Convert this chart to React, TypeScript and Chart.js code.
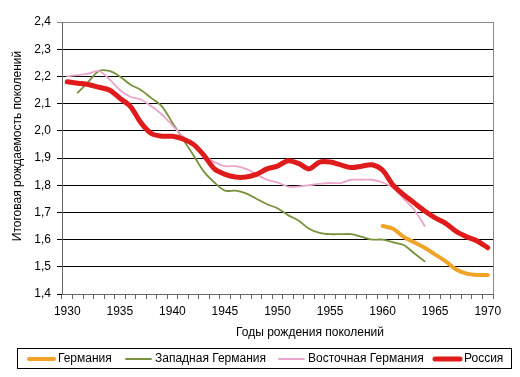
import React, { useEffect, useRef } from "react";
import { Chart, registerables } from "chart.js";

Chart.register(...registerables);

const YEARS: string[] = [];
for (let y = 1930; y <= 1970; y++) YEARS.push(String(y));

const Y_TICK_MIN = 1.4;
const Y_TICK_MAX = 2.4;
const Y_TICK_STEP = 0.1;

const X_TITLE = "Годы рождения поколений";
const Y_TITLE = "Итоговая рождаемость поколений";

const SERIES_NAMES = ["Германия", "Западная Германия", "Восточная Германия", "Россия"];

// Германия 1960-1970
const GERMANY_START = 1960;
const GERMANY = [1.65, 1.64, 1.61, 1.59, 1.57, 1.545, 1.52, 1.49, 1.475, 1.47, 1.47];

// Западная Германия 1931-1964
const WEST_START = 1931;
const WEST = [
  2.14, 2.18, 2.22, 2.22, 2.2, 2.17, 2.15, 2.12, 2.09, 2.03,
  1.97, 1.91, 1.85, 1.81, 1.78, 1.78, 1.77, 1.75, 1.73, 1.715,
  1.69, 1.67, 1.64, 1.625, 1.62, 1.62, 1.62, 1.61, 1.6, 1.6,
  1.59, 1.58, 1.55, 1.52,
];

// Восточная Германия 1930-1964
const EAST_START = 1930;
const EAST = [
  2.2, 2.205, 2.21, 2.22, 2.19, 2.15, 2.125, 2.115, 2.09, 2.06,
  2.02, 1.98, 1.95, 1.91, 1.885, 1.87, 1.87, 1.86, 1.84, 1.82,
  1.81, 1.795, 1.795, 1.8, 1.805, 1.808, 1.808, 1.82, 1.82, 1.82,
  1.81, 1.79, 1.75, 1.71, 1.65,
];

// Россия 1930-1970
const RUSSIA_START = 1930;
const RUSSIA = [
  2.18, 2.175, 2.17, 2.16, 2.15, 2.12, 2.09, 2.03, 1.99, 1.98,
  1.98, 1.97, 1.95, 1.91, 1.86, 1.84, 1.83, 1.83, 1.84, 1.86,
  1.87, 1.89, 1.88, 1.86, 1.885, 1.885, 1.875, 1.865, 1.87, 1.875,
  1.855, 1.8, 1.765, 1.735, 1.705, 1.68, 1.66, 1.63, 1.61, 1.595,
  1.57,
];

const COLORS = ["#f0a428", "#76923c", "#eba5cc", "#e01b1b"];
const WIDTHS = [4, 1.8, 1.8, 5];

function align(start: number, vals: number[]): (number | null)[] {
  return YEARS.map((y) => {
    const i = Number(y) - start;
    return i >= 0 && i < vals.length ? vals[i] : null;
  });
}

const FONT = '"Liberation Sans", Arial, sans-serif';

const overlay = {
  id: "overlay",
  afterDraw(chart: any) {
    const ctx = chart.ctx as CanvasRenderingContext2D;
    const ca = chart.chartArea;
    ctx.save();
    // right border
    ctx.strokeStyle = "#888";
    ctx.lineWidth = 1;
    ctx.beginPath();
    ctx.moveTo(Math.round(ca.right) + 0.5, ca.top);
    ctx.lineTo(Math.round(ca.right) + 0.5, ca.bottom);
    ctx.stroke();

    ctx.fillStyle = "#000";
    ctx.font = "12px " + FONT;
    ctx.textAlign = "center";
    ctx.textBaseline = "middle";
    ctx.fillText(X_TITLE, 310, 333);

    ctx.save();
    ctx.translate(18, 146);
    ctx.rotate(-Math.PI / 2);
    ctx.fillText(Y_TITLE, 0, 0);
    ctx.restore();

    // legend
    ctx.strokeStyle = "#000";
    ctx.lineWidth = 1;
    ctx.strokeRect(17.5, 348.5, 494, 20);
    const xs = [29, 126, 279, 435];
    const ly = 359;
    ctx.textAlign = "left";
    chart.data.datasets.forEach((ds: any, i: number) => {
      ctx.strokeStyle = ds.borderColor;
      ctx.lineWidth = ds.borderWidth;
      ctx.lineCap = "round";
      ctx.beginPath();
      ctx.moveTo(xs[i], ly);
      ctx.lineTo(xs[i] + 25, ly);
      ctx.stroke();
      ctx.fillStyle = "#000";
      ctx.fillText(ds.label, xs[i] + 29, ly);
    });
    ctx.restore();
  },
};

export default function App() {
  const ref = useRef<HTMLCanvasElement | null>(null);
  useEffect(() => {
    if (!ref.current) return;
    const series = [
      align(GERMANY_START, GERMANY),
      align(WEST_START, WEST),
      align(EAST_START, EAST),
      align(RUSSIA_START, RUSSIA),
    ];
    const orders = [1, 3, 2, 0];
    const chart = new Chart(ref.current, {
      type: "line",
      data: {
        labels: YEARS,
        datasets: series.map((d, i) => ({
          label: SERIES_NAMES[i],
          data: d,
          borderColor: COLORS[i],
          backgroundColor: COLORS[i],
          borderWidth: WIDTHS[i],
          pointRadius: 0,
          tension: 0.3,
          borderCapStyle: "round",
          borderJoinStyle: "round",
          spanGaps: false,
          order: orders[i],
        })),
      },
      options: {
        responsive: false,
        animation: false,
        events: [],
        layout: { padding: { top: 22, right: 27, bottom: 53, left: 0 } },
        plugins: {
          legend: { display: false },
          tooltip: { enabled: false },
          title: { display: false },
        },
        scales: {
          x: {
            type: "category",
            offset: true,
            grid: {
              offset: true,
              drawOnChartArea: false,
              drawTicks: true,
              tickLength: 5,
              color: "#666",
            },
            border: { display: true, color: "#666" },
            ticks: {
              autoSkip: false,
              maxRotation: 0,
              minRotation: 0,
              padding: 5,
              color: "#000",
              font: { family: FONT, size: 12 },
              callback: (_v: any, i: number) => (Number(YEARS[i]) % 5 === 0 ? YEARS[i] : ""),
            },
            afterFit: (s: any) => {
              s.height = 30;
            },
          },
          y: {
            min: Y_TICK_MIN,
            max: Y_TICK_MAX,
            grid: {
              color: (c: any) => (c.tick && Math.abs(c.tick.value - Y_TICK_MAX) < 1e-6 ? "#888" : "#000"),
              tickLength: 5,
              lineWidth: 1,
            },
            border: { display: true, color: "#666" },
            ticks: {
              stepSize: Y_TICK_STEP,
              padding: 6,
              color: "#000",
              font: { family: FONT, size: 12 },
              callback: (v: any) => Number(v).toFixed(1).replace(".", ","),
            },
            afterFit: (s: any) => {
              s.width = 62;
            },
          },
        },
      },
      plugins: [overlay],
    });
    return () => chart.destroy();
  }, []);
  return (
    <div style={{ position: "absolute", left: 0, top: 0, width: 520, height: 377, background: "#fff" }}>
      <canvas ref={ref} width={520} height={377} style={{ display: "block" }} />
    </div>
  );
}
